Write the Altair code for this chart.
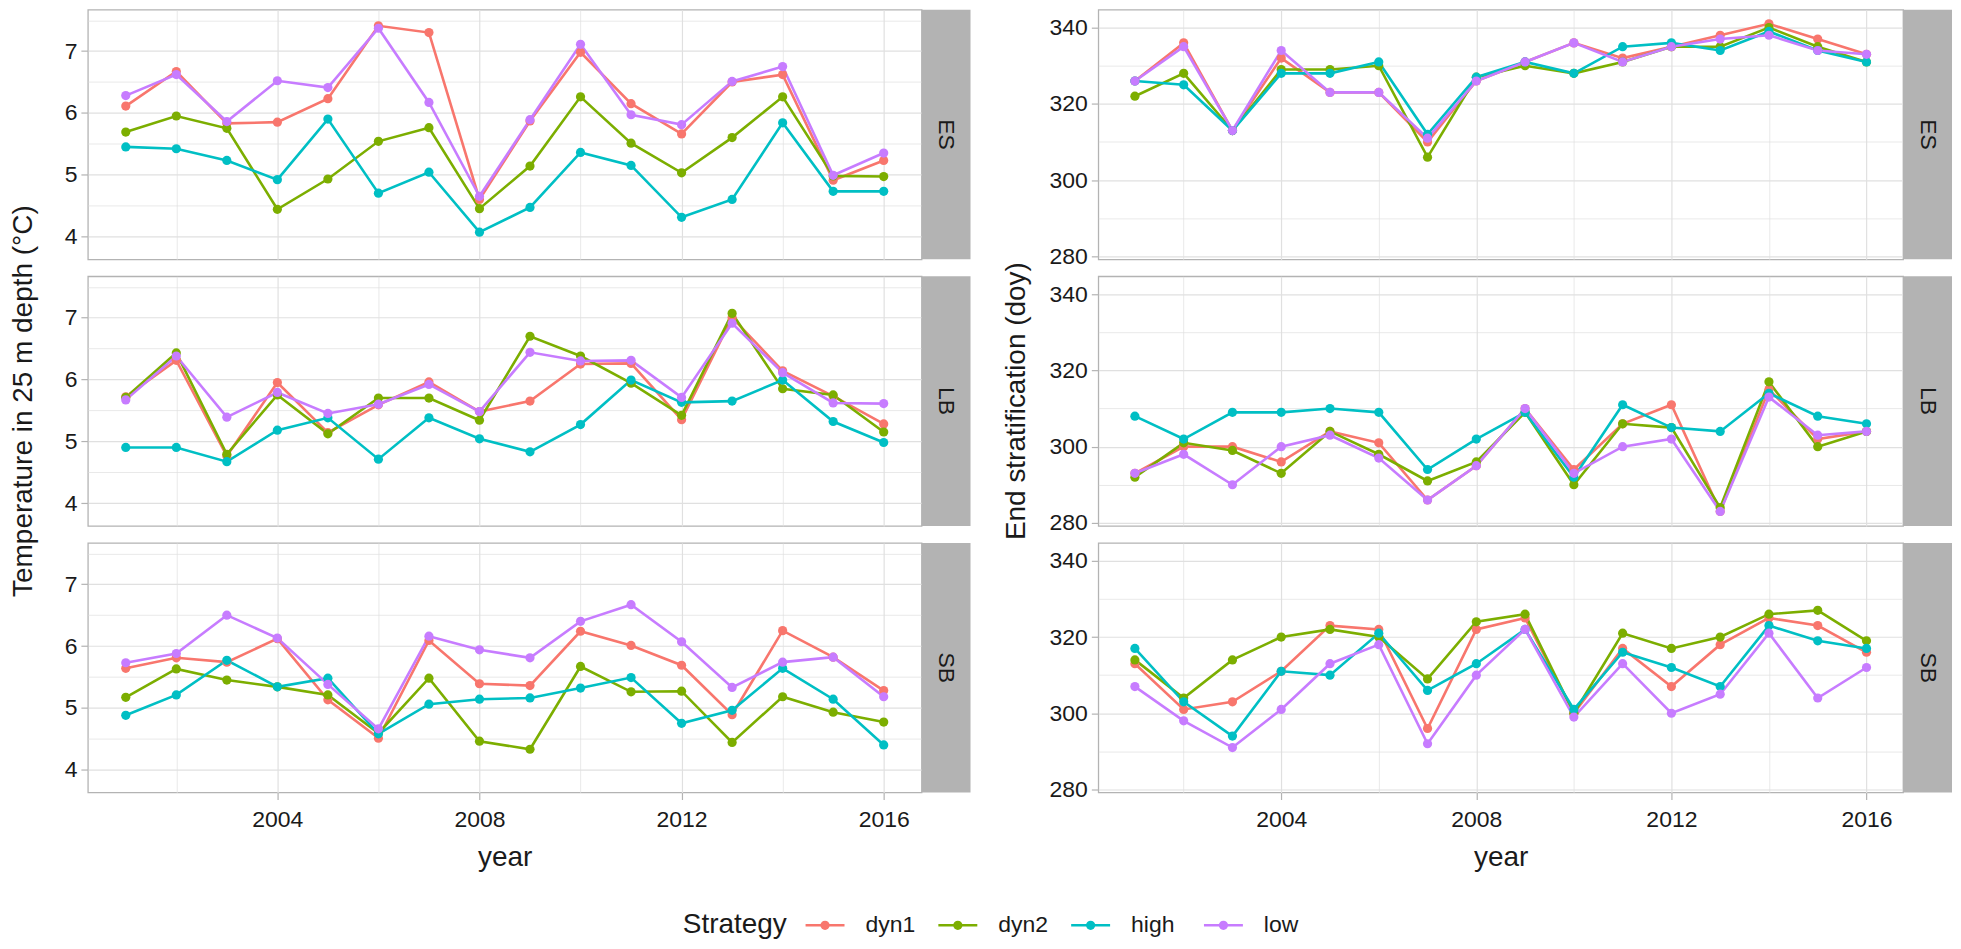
import altair as alt
import pandas as pd

years = list(range(2001, 2017))
strategies = ["dyn1", "dyn2", "high", "low"]
colors = ["#F8766D", "#7CAE00", "#00BFC4", "#C77CFF"]
regions = ["ES", "LB", "SB"]

# Temperature in 25 m depth (°C)
temp_ES_dyn1 = [6.11, 6.67, 5.83, 5.85, 6.23, 7.41, 7.30, 4.60, 5.87, 6.98, 6.15, 5.66, 6.50, 6.62, 4.91, 5.23]
temp_ES_dyn2 = [5.69, 5.95, 5.75, 4.44, 4.93, 5.54, 5.76, 4.45, 5.14, 6.26, 5.51, 5.03, 5.60, 6.26, 4.98, 4.97]
temp_ES_high = [5.45, 5.42, 5.23, 4.92, 5.90, 4.70, 5.04, 4.07, 4.47, 5.36, 5.15, 4.31, 4.60, 5.84, 4.73, 4.73]
temp_ES_low = [6.28, 6.62, 5.86, 6.52, 6.41, 7.37, 6.17, 4.65, 5.89, 7.11, 5.97, 5.81, 6.51, 6.75, 4.99, 5.35]

temp_LB_dyn1 = [5.72, 6.31, 4.76, 5.95, 5.14, 5.59, 5.96, 5.48, 5.65, 6.25, 6.26, 5.35, 7.00, 6.14, 5.73, 5.28]
temp_LB_dyn2 = [5.71, 6.43, 4.79, 5.75, 5.12, 5.70, 5.70, 5.34, 6.70, 6.38, 5.94, 5.42, 7.07, 5.85, 5.75, 5.15]
temp_LB_high = [4.90, 4.90, 4.67, 5.18, 5.38, 4.71, 5.38, 5.04, 4.83, 5.27, 5.99, 5.63, 5.65, 5.99, 5.32, 4.98]
temp_LB_low = [5.67, 6.38, 5.39, 5.79, 5.45, 5.60, 5.92, 5.48, 6.44, 6.30, 6.31, 5.71, 6.91, 6.11, 5.62, 5.61]

temp_SB_dyn1 = [5.64, 5.81, 5.74, 6.12, 5.13, 4.51, 6.09, 5.39, 5.36, 6.24, 6.01, 5.69, 4.89, 6.25, 5.82, 5.28]
temp_SB_dyn2 = [5.17, 5.63, 5.45, 5.34, 5.21, 4.59, 5.48, 4.46, 4.33, 5.67, 5.26, 5.27, 4.44, 5.18, 4.93, 4.77]
temp_SB_high = [4.88, 5.21, 5.77, 5.34, 5.48, 4.58, 5.06, 5.14, 5.16, 5.32, 5.49, 4.75, 4.96, 5.64, 5.14, 4.40]
temp_SB_low = [5.73, 5.88, 6.50, 6.13, 5.38, 4.66, 6.16, 5.94, 5.81, 6.40, 6.67, 6.07, 5.33, 5.74, 5.82, 5.18]

# End stratification (doy)
strat_ES_dyn1 = [326, 336, 313, 332, 323, 323, 310, 326, 331, 336, 332, 335, 338, 341, 337, 333]
strat_ES_dyn2 = [322, 328, 313, 329, 329, 330, 306, 327, 330, 328, 331, 335, 335, 340, 335, 331]
strat_ES_high = [326, 325, 313, 328, 328, 331, 312, 327, 331, 328, 335, 336, 334, 339, 334, 331]
strat_ES_low = [326, 335, 313, 334, 323, 323, 311, 326, 331, 336, 331, 335, 337, 338, 334, 333]

strat_LB_dyn1 = [293, 300, 300, 296, 304, 301, 286, 295, 310, 294, 306, 311, 283, 315, 302, 304]
strat_LB_dyn2 = [292, 301, 299, 293, 304, 298, 291, 296, 309, 290, 306, 305, 284, 317, 300, 304]
strat_LB_high = [308, 302, 309, 309, 310, 309, 294, 302, 309, 292, 311, 305, 304, 314, 308, 306]
strat_LB_low = [293, 298, 290, 300, 303, 297, 286, 295, 310, 293, 300, 302, 283, 313, 303, 304]

strat_SB_dyn1 = [313, 301, 303, 311, 323, 322, 296, 322, 325, 300, 317, 307, 318, 325, 323, 316]
strat_SB_dyn2 = [314, 304, 314, 320, 322, 320, 309, 324, 326, 300, 321, 317, 320, 326, 327, 319]
strat_SB_high = [317, 303, 294, 311, 310, 321, 306, 313, 322, 301, 316, 312, 307, 323, 319, 317]
strat_SB_low = [307, 298, 291, 301, 313, 318, 292, 310, 322, 299, 313, 300, 305, 321, 304, 312]

x_ticks = [2002, 2004, 2006, 2008, 2010, 2012, 2014, 2016]
temp_ticks = [4, 4.5, 5, 5.5, 6, 6.5, 7, 7.5]
strat_ticks = [280, 290, 300, 310, 320, 330, 340]

series = {
    ("temp", "ES"): [temp_ES_dyn1, temp_ES_dyn2, temp_ES_high, temp_ES_low],
    ("temp", "LB"): [temp_LB_dyn1, temp_LB_dyn2, temp_LB_high, temp_LB_low],
    ("temp", "SB"): [temp_SB_dyn1, temp_SB_dyn2, temp_SB_high, temp_SB_low],
    ("strat", "ES"): [strat_ES_dyn1, strat_ES_dyn2, strat_ES_high, strat_ES_low],
    ("strat", "LB"): [strat_LB_dyn1, strat_LB_dyn2, strat_LB_high, strat_LB_low],
    ("strat", "SB"): [strat_SB_dyn1, strat_SB_dyn2, strat_SB_high, strat_SB_low],
}

FONT = "Liberation Sans"
GRID = "#E0E0E0"
BORDER = "#B3B3B3"
TXT = "#1A1A1A"
TITLE_FS = 28
LABEL_FS = 23
H = 250
VGAP = 17
COL_H = 3 * H + 2 * VGAP
STRIP = 49
WL, WR = 835, 806
NOVIEW = alt.ViewBackground(strokeOpacity=0)

cscale = alt.Scale(domain=strategies, range=colors)


def panel(var, region, width, ydomain, yvals, ymod, bottom):
    rows = []
    for s, vals in zip(strategies, series[(var, region)]):
        for yr, v in zip(years, vals):
            rows.append({"year": yr, "Strategy": s, "value": v})
    df = pd.DataFrame(rows)
    base = alt.Chart(df)
    xcond = "datum.value % 4 == 0"
    if bottom:
        xaxis = alt.Axis(
            values=x_ticks, labelExpr=f"{xcond} ? format(datum.value, 'd') : ''",
            tickOpacity={"condition": {"test": xcond, "value": 1}, "value": 0},
            gridWidth={"condition": {"test": xcond, "value": 1.2}, "value": 0.7},
            title="year", titleFontSize=TITLE_FS, titleFontWeight="normal", titleColor=TXT,
            titlePadding=11.5, labelFontSize=LABEL_FS, labelColor=TXT, labelPadding=9.5,
            tickSize=7, tickColor=BORDER, tickWidth=1.2, gridColor=GRID, domain=False,
            labelFlush=False,
        )
    else:
        xaxis = alt.Axis(
            values=x_ticks, labels=False, ticks=False, title=None, domain=False,
            gridColor=GRID,
            gridWidth={"condition": {"test": xcond, "value": 1.2}, "value": 0.7},
        )
    ycond = f"datum.value % {ymod} == 0"
    yaxis = alt.Axis(
        values=yvals, labelExpr=f"{ycond} ? format(datum.value, 'd') : ''",
        tickOpacity={"condition": {"test": ycond, "value": 1}, "value": 0},
        gridWidth={"condition": {"test": ycond, "value": 1.2}, "value": 0.7},
        title=None, labelFontSize=LABEL_FS, labelColor=TXT, labelPadding=4,
        tickSize=7, tickColor=BORDER, tickWidth=1.2, gridColor=GRID, domain=False,
        labelFlush=False,
    )
    X = alt.X("year:Q", scale=alt.Scale(domain=[2000.25, 2016.75], nice=False, zero=False), axis=xaxis)
    Y = alt.Y("value:Q", scale=alt.Scale(domain=ydomain, nice=False, zero=False), axis=yaxis)
    C = alt.Color("Strategy:N", scale=cscale, legend=None)
    lines = base.mark_line(strokeWidth=2.6).encode(x=X, y=Y, color=C)
    points = base.mark_circle(size=85, opacity=1).encode(x=X, y=Y, color=C)
    sdf = pd.DataFrame({"region": [region]})
    strip = alt.Chart(sdf).mark_rect(fill=BORDER).encode(
        x=alt.value(width), x2=alt.value(width + STRIP), y=alt.value(0), y2=alt.value(H)
    )
    label = alt.Chart(sdf).mark_text(angle=90, fontSize=LABEL_FS, font=FONT, color=TXT).encode(
        x=alt.value(width + STRIP / 2), y=alt.value(H / 2), text="region:N"
    )
    return alt.layer(lines, points, strip, label).properties(width=width, height=H)


def ytitle(text, width, xpos):
    return alt.Chart(pd.DataFrame({"t": [text]})).mark_text(
        angle=270, fontSize=TITLE_FS, font=FONT, color=TXT, align="center", baseline="middle"
    ).encode(x=alt.value(xpos), y=alt.value(COL_H / 2), text="t:N").properties(
        width=width, height=COL_H, view=NOVIEW
    )


left = alt.vconcat(
    *[panel("temp", r, WL, [3.63, 7.67], temp_ticks, 1, r == "SB") for r in regions],
    spacing=VGAP, bounds="flush",
)
right = alt.vconcat(
    *[panel("strat", r, WR, [279.2, 344.7], strat_ticks, 20, r == "SB") for r in regions],
    spacing=VGAP, bounds="flush",
)
title_l = ytitle("Temperature in 25 m depth (°C)", 55, 16)
title_r = ytitle("End stratification (doy)", 76, 45.5)

# ---- legend (drawn as its own small chart) ----
LEG_W = 1940
LEG_H = 28
LEG_CENTER = 916
BOTTOM_AXIS_EXTENT = 79
first_key_px = 818.3
key_step_px = 133.0
lo = -first_key_px / key_step_px
hi = (LEG_W - first_key_px) / key_step_px
leg_df = pd.DataFrame({"Strategy": strategies, "i": list(range(len(strategies)))})
LX = alt.X("i:Q", scale=alt.Scale(domain=[lo, hi], nice=False, zero=False), axis=None)
LC = alt.Color("Strategy:N", scale=cscale, legend=None)
leg_base = alt.Chart(leg_df)
leg_rule = leg_base.mark_rule(strokeWidth=2.6, xOffset=-19.5, x2Offset=19.5).encode(
    x=LX, x2="i:Q", y=alt.value(LEG_H / 2), color=LC
)
leg_pt = leg_base.mark_circle(size=85, opacity=1).encode(x=LX, y=alt.value(LEG_H / 2), color=LC)
leg_txt = leg_base.mark_text(align="left", baseline="middle", dx=40.5, fontSize=LABEL_FS,
                             font=FONT, color=TXT).encode(
    x=LX, y=alt.value(LEG_H / 2), text="Strategy:N"
)
leg_title = alt.Chart(pd.DataFrame({"t": ["Strategy"]})).mark_text(
    align="right", baseline="middle", fontSize=TITLE_FS, font=FONT, color=TXT
).encode(x=alt.value(780), y=alt.value(LEG_H / 2), text="t:N")
legend_chart = alt.layer(leg_rule, leg_pt, leg_txt, leg_title).properties(
    width=LEG_W, height=LEG_H, view=NOVIEW
)

chart = alt.vconcat(
    alt.hconcat(title_l, left, title_r, right, spacing=0),
    legend_chart,
    spacing=LEG_CENTER - LEG_H / 2 - COL_H - BOTTOM_AXIS_EXTENT,
).properties(padding=0).configure(font=FONT).configure_view(
    stroke=BORDER, strokeWidth=1.3
)

chart.save("out.html", embed_options={"renderer": "svg", "actions": False})
